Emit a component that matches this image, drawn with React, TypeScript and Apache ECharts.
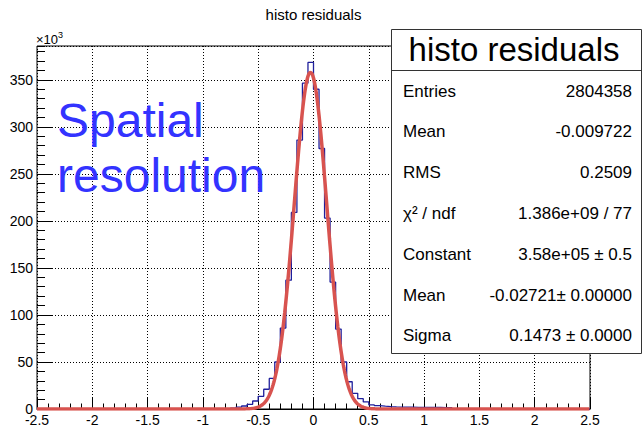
import React, { useEffect, useRef } from "react";
import * as echarts from "echarts";

// Residual histogram: 0.05-wide bins, counts in units of 10^3
const BIN_WIDTH = 0.05;
const FIRST_BIN_LOW = -0.75;
const binCounts = [
  1.0, 2.0, 3.2, 5.0, 8.5, 13.5, 21, 32.5, 50, 86,
  137, 209, 286, 346.5, 368.5, 340, 277, 203, 135, 85,
  50, 29, 16.7, 11, 7.5, 4.3, 3.5, 3.0, 2.6, 2.3,
  2.1, 2.0, 1.9, 1.8, 1.8, 1.7, 1.6, 1.6, 1.5, 1.5,
];

const X_MIN = -2.5;
const X_MAX = 2.5;
const Y_MAX = 386;

const FIT_CONSTANT = 358;
const FIT_MEAN = -0.02721;
const FIT_SIGMA = 0.1473;

const STAT_TITLE = "histo residuals";
const statLabels = ["Entries", "Mean", "RMS", "χ² / ndf", "Constant", "Mean", "Sigma"];
const statValues = [
  "2804358",
  "-0.009722",
  "0.2509",
  "1.386e+09 / 77",
  "3.58e+05 ± 0.5",
  "-0.02721± 0.00000",
  "0.1473 ± 0.0000",
];

const FONT = '"Liberation Sans", Arial, Helvetica, sans-serif';

const r3 = (v: number) => Math.round(v * 1000) / 1000;

function histogramPoints(): number[][] {
  const pts: number[][] = [[X_MIN, 0]];
  binCounts.forEach((c, i) => pts.push([r3(FIRST_BIN_LOW + i * BIN_WIDTH), c]));
  const lastEdge = r3(FIRST_BIN_LOW + binCounts.length * BIN_WIDTH);
  pts.push([lastEdge, 0]);
  pts.push([X_MAX, 0]);
  return pts;
}

function fitPoints(): number[][] {
  const pts: number[][] = [];
  const n = 1000;
  for (let i = 0; i <= n; i++) {
    const x = X_MIN + ((X_MAX - X_MIN) * i) / n;
    const d = (x - FIT_MEAN) / FIT_SIGMA;
    pts.push([x, FIT_CONSTANT * Math.exp(-0.5 * d * d)]);
  }
  return pts;
}

function buildOption(): any {
  const gridLine = { show: true, lineStyle: { color: "#000", type: [1, 2], width: 1 } };
  const box = { x: 391.5, y: 29.5, w: 250, h: 324 };
  const statTexts: any[] = [];
  statLabels.forEach((lab, i) => {
    const y = 91 + 40.8 * i;
    statTexts.push({
      type: "text", x: 403, y, z: 102,
      style: { text: lab, fontSize: 17, fontFamily: FONT, fill: "#000", align: "left", verticalAlign: "middle" },
    });
    statTexts.push({
      type: "text", x: 632, y, z: 102,
      style: { text: statValues[i], fontSize: 17, fontFamily: FONT, fill: "#000", align: "right", verticalAlign: "middle" },
    });
  });

  return {
    animation: false,
    backgroundColor: "#fff",
    grid: { left: 37, right: 53, top: 46, bottom: 20, show: true, borderColor: "#000", borderWidth: 1, backgroundColor: "transparent" },
    xAxis: {
      type: "value",
      min: X_MIN,
      max: X_MAX,
      interval: 0.5,
      axisLine: { show: true, onZero: false, lineStyle: { color: "#000", width: 1 } },
      axisTick: { show: true, inside: true, length: 11, lineStyle: { color: "#000" } },
      minorTick: { show: true, splitNumber: 5, length: 5.5, lineStyle: { color: "#000" } },
      axisLabel: {
        color: "#000", fontSize: 14, fontFamily: FONT, margin: 4,
        showMinLabel: true, showMaxLabel: true,
        formatter: (v: number) => String(r3(v)),
      },
      splitLine: gridLine,
    },
    yAxis: [
      {
        type: "value",
        position: "left",
        min: 0,
        max: Y_MAX,
        interval: 50,
        axisLine: { show: false, onZero: false },
        axisTick: { show: true, inside: true, length: 16, lineStyle: { color: "#000" } },
        axisLabel: {
          color: "#000", fontSize: 14, fontFamily: FONT, margin: 4, showMaxLabel: false,
          formatter: (v: number) => (v % 50 === 0 ? String(v) : ""),
        },
        splitLine: gridLine,
      },
      {
        type: "value",
        position: "left",
        offset: 0,
        min: 0,
        max: Y_MAX,
        interval: 10,
        axisLine: { show: false, onZero: false },
        axisTick: { show: true, inside: true, length: 8, lineStyle: { color: "#000" } },
        axisLabel: { show: false },
        splitLine: { show: false },
      },
    ],
    series: [
      {
        type: "line", data: histogramPoints(), step: "end", symbol: "none", yAxisIndex: 0,
        lineStyle: { color: "#1f1f9c", width: 1.3 }, z: 2, silent: true,
      },
      {
        type: "line", data: fitPoints(), symbol: "none", yAxisIndex: 0,
        lineStyle: { color: "#d8534f", width: 3.5 }, z: 3, silent: true,
      },
    ],
    graphic: [
      {
        type: "text", x: 313.5, y: 14,
        style: { text: "histo residuals", fontSize: 15, fontFamily: FONT, fill: "#000", align: "center", verticalAlign: "middle" },
      },
      {
        type: "text", x: 36, y: 39,
        style: {
          text: "{a|×10}{b|3}", fontFamily: FONT, fill: "#000", align: "left", verticalAlign: "middle",
          rich: {
            a: { fontSize: 13, fontFamily: FONT, fill: "#000" },
            b: { fontSize: 9, fontFamily: FONT, fill: "#000", verticalAlign: "top", padding: [0, 0, 9, 0] },
          },
        },
      },
      {
        type: "text", x: 57, y: 120.5, z: 50,
        style: { text: "Spatial", fontSize: 48, fontFamily: FONT, fill: "#3333ff", align: "left", verticalAlign: "middle" },
      },
      {
        type: "text", x: 57, y: 175.5, z: 50,
        style: { text: "resolution", fontSize: 48, fontFamily: FONT, fill: "#3333ff", align: "left", verticalAlign: "middle" },
      },
      {
        type: "rect", z: 100,
        shape: { x: box.x, y: box.y, width: box.w, height: box.h },
        style: { fill: "#fff", stroke: "#333", lineWidth: 1 },
      },
      {
        type: "line", z: 101,
        shape: { x1: box.x, y1: 70.5, x2: box.x + box.w, y2: 70.5 },
        style: { stroke: "#333", lineWidth: 1 },
      },
      {
        type: "text", x: 514, y: 49.5, z: 102,
        style: { text: STAT_TITLE, fontSize: 33, fontFamily: FONT, fill: "#000", align: "center", verticalAlign: "middle" },
      },
      ...statTexts,
    ],
  };
}

export default function App() {
  const ref = useRef<HTMLDivElement>(null);
  useEffect(() => {
    if (!ref.current) return;
    const chart = echarts.init(ref.current, null, { renderer: "svg" });
    chart.setOption(buildOption());
    return () => chart.dispose();
  }, []);
  return (
    <div
      ref={ref}
      style={{ position: "absolute", left: 0, top: 0, width: 643, height: 429, background: "#fff" }}
    />
  );
}
